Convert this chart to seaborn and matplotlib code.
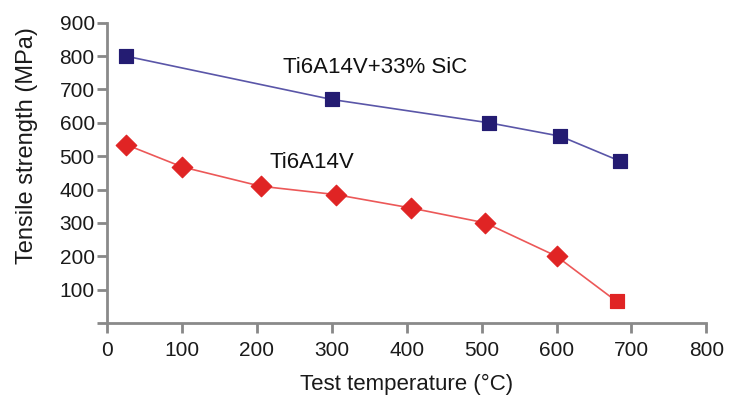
import pandas as pd
import matplotlib
matplotlib.use("Agg")
import matplotlib.pyplot as plt
import seaborn as sns

# Data
sic_temp = [25, 300, 510, 605, 685]
sic_strength = [800, 670, 600, 560, 485]

ti_temp = [25, 100, 205, 305, 405, 505, 600, 680]
ti_strength = [535, 468, 410, 385, 345, 300, 200, 65]

x_ticks = [0, 100, 200, 300, 400, 500, 600, 700, 800]
y_ticks = [0, 100, 200, 300, 400, 500, 600, 700, 800, 900]
y_labels = [""] + [str(v) for v in y_ticks[1:]]

sic = pd.DataFrame({"temp": sic_temp, "strength": sic_strength})
ti = pd.DataFrame({"temp": ti_temp, "strength": ti_strength})

sns.set_style("white")
plt.rcParams["font.family"] = ["Liberation Sans", "DejaVu Sans"]

fig = plt.figure(figsize=(7.29, 4.03), dpi=100)
ax = fig.add_axes([0.147, 0.1985, 0.822, 0.745])

# Ti6Al4V + SiC
sns.lineplot(data=sic, x="temp", y="strength", ax=ax, color="#5a56a8", linewidth=1.2)
sns.scatterplot(data=sic, x="temp", y="strength", ax=ax, marker="s", s=110,
                color="#241c72", edgecolor="#241c72", zorder=3)

# Ti6Al4V
sns.lineplot(data=ti, x="temp", y="strength", ax=ax, color="#ec5858", linewidth=1.2)
sns.scatterplot(data=ti.iloc[:-1], x="temp", y="strength", ax=ax, marker="D", s=110,
                color="#e02424", edgecolor="#e02424", zorder=3)
sns.scatterplot(data=ti.iloc[-1:], x="temp", y="strength", ax=ax, marker="s", s=110,
                color="#e02424", edgecolor="#e02424", zorder=3)

ax.text(235, 765, "Ti6A14V+33% SiC", fontsize=16, color="#111111", va="center")
ax.text(217, 480, "Ti6A14V", fontsize=16, color="#111111", va="center")

ax.set_xlim(0, 800)
ax.set_ylim(0, 900)
ax.set_xticks(x_ticks)
ax.set_yticks(y_ticks)
ax.set_yticklabels(y_labels)
ax.tick_params(axis="both", bottom=True, left=True, labelsize=15, colors="#888888",
               length=7, width=2, direction="out", labelcolor="#1a1a1a")
ax.tick_params(axis="x", pad=6)
ax.tick_params(axis="y", pad=2)

for side in ["top", "right"]:
    ax.spines[side].set_visible(False)
for side in ["left", "bottom"]:
    ax.spines[side].set_color("#8a8a8a")
    ax.spines[side].set_linewidth(2)

ax.set_xlabel("Test temperature (°C)", fontsize=16, color="#1a1a1a", labelpad=10)
ax.set_ylabel("Tensile strength (MPa)", fontsize=17, color="#1a1a1a")
ax.yaxis.set_label_coords(-0.115, 0.59)

fig.savefig("out.png", dpi=100)
